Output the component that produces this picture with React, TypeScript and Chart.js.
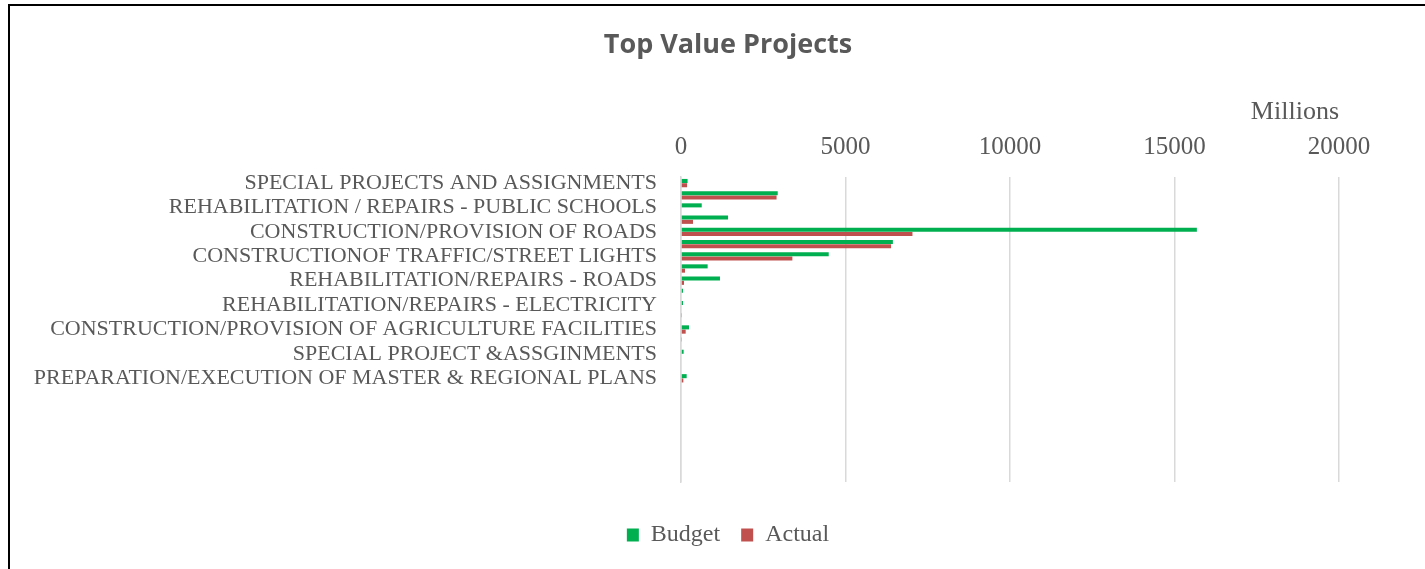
import React, { useEffect, useRef } from "react";
import { Chart, registerables } from "chart.js";

Chart.register(...registerables);

const categories: string[] = [
  "SPECIAL PROJECTS AND ASSIGNMENTS",
  "",
  "REHABILITATION / REPAIRS - PUBLIC SCHOOLS",
  "",
  "CONSTRUCTION/PROVISION OF ROADS",
  "",
  "CONSTRUCTIONOF TRAFFIC/STREET LIGHTS",
  "",
  "REHABILITATION/REPAIRS - ROADS",
  "",
  "REHABILITATION/REPAIRS - ELECTRICITY",
  "",
  "CONSTRUCTION/PROVISION OF AGRICULTURE FACILITIES",
  "",
  "SPECIAL PROJECT &ASSGINMENTS",
  "",
  "PREPARATION/EXECUTION OF MASTER & REGIONAL PLANS",
  "", "", "", "", "", "", "", "",
];

const budget: (number | null)[] = [
  200, 2940, 630, 1430, 15680, 6440, 4490, 810, 1185, 60, 60, 15, 243, 15, 80, null, 172,
  null, null, null, null, null, null, null, null,
];

const actual: (number | null)[] = [
  185, 2905, 0, 365, 7035, 6385, 3385, 122, 91, null, null, null, 142, null, null, null, 71,
  null, null, null, null, null, null, null, null,
];

const xTicks: number[] = [0, 5000, 10000, 15000, 20000];

const SERIF = "'Liberation Serif', 'Times New Roman', serif";
const GREY = "#595959";

export default function App() {
  const ref = useRef<HTMLCanvasElement | null>(null);

  useEffect(() => {
    if (!ref.current) return;
    const chart = new Chart(ref.current, {
      type: "bar",
      data: {
        labels: categories,
        datasets: [
          {
            label: "Budget",
            data: budget,
            backgroundColor: "#00B050",
            borderWidth: 0,
            xAxisID: "x",
            yAxisID: "y",
            categoryPercentage: 0.7,
            barPercentage: 0.95,
          },
          {
            label: "Actual",
            data: actual,
            backgroundColor: "#C0504D",
            borderWidth: 0,
            xAxisID: "x",
            yAxisID: "y",
            categoryPercentage: 0.7,
            barPercentage: 0.95,
          },
        ],
      },
      options: {
        indexAxis: "y",
        responsive: false,
        animation: false,
        devicePixelRatio: 1,
        layout: { padding: { left: 0, right: 0, top: 0, bottom: 49 } },
        scales: {
          x: {
            type: "linear",
            position: "top",
            min: xTicks[0],
            max: xTicks[xTicks.length - 1],
            afterBuildTicks: (s: any) => {
              s.ticks = xTicks.map((v) => ({ value: v }));
            },
            ticks: {
              padding: 0,
              maxRotation: 0,
              color: GREY,
              font: { family: SERIF, size: 25 },
              callback: (v: any) => String(v),
            },
            grid: {
              color: "#d9d9d9",
              lineWidth: 1.5,
              drawTicks: true,
              tickLength: 15,
              tickColor: "rgba(0,0,0,0)",
            },
            border: { display: false },
            title: {
              display: true,
              text: "Millions",
              align: "end",
              color: GREY,
              font: { family: SERIF, size: 26 },
              padding: { top: 1.5, bottom: 3.9 },
            },
          },
          y: {
            type: "category",
            position: "left",
            grid: { display: false, drawTicks: false },
            border: { display: true, color: "#d9d9d9", width: 1.5 },
            ticks: {
              autoSkip: false,
              padding: 24,
              color: GREY,
              font: { family: SERIF, size: 22 },
            },
            afterFit: (s: any) => {
              s.width = 671;
            },
          },
          y2: {
            type: "category",
            axis: "y",
            position: "right",
            display: true,
            grid: { display: false, drawTicks: false },
            border: { display: false },
            ticks: { display: false },
            afterFit: (s: any) => {
              s.width = 107;
            },
          },
        },
        plugins: {
          title: {
            display: true,
            text: "Top Value Projects",
            color: GREY,
            font: { family: "'Open Sans', sans-serif", size: 27, weight: "bold" },
            padding: { top: 23.5, bottom: 33.5 },
          },
          legend: {
            display: true,
            position: "bottom",
            title: {
              display: true,
              text: " ",
              font: { size: 10 },
              padding: { top: 8, bottom: 0 },
            },
            labels: {
              boxWidth: 12,
              boxHeight: 13,
              padding: 21,
              color: GREY,
              font: { family: SERIF, size: 24 },
            },
          },
          tooltip: { enabled: false },
        },
      },
    } as any);
    return () => chart.destroy();
  }, []);

  return (
    <div style={{ position: "fixed", inset: 0, overflow: "hidden", background: "#fff" }}>
      <div
        style={{
          position: "absolute",
          left: 8,
          top: 4,
          width: 1436,
          height: 600,
          border: "2px solid #000",
          background: "#fff",
        }}
      >
        <canvas ref={ref} width={1436} height={600} style={{ display: "block", width: 1436, height: 600 }} />
      </div>
    </div>
  );
}
